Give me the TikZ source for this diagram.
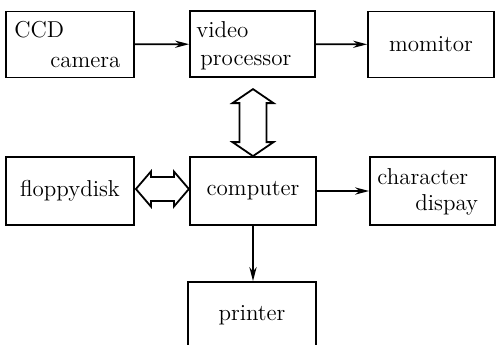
\documentclass[tikz,border=0pt]{standalone}
\usetikzlibrary{arrows.meta,calc}
\newcommand\PxUnit{0.5pt}
\newcommand\BoxFont{\fontsize{11.5}{13}\selectfont}
\tikzset{
  block/.style={
    draw,
    line width=0.9pt,
    minimum width=64pt,
    minimum height=33pt,
    inner sep=0pt,
    font=\BoxFont
  },
  blocktext/.style={
    anchor=base west,
    inner sep=0pt,
    font=\BoxFont
  },
  link/.style={
    line width=0.9pt,
    -{Stealth[length=7pt,width=3.6pt]}
  },
  bus/.style={
    draw,
    line width=0.9pt,
    line join=miter
  },
}

\begin{document}
\begin{tikzpicture}[x=\PxUnit,y=-\PxUnit]
    \useasboundingbox (0,0) rectangle (496,344);
    \clip (0,0) rectangle (496,344);

    % top row
    \node[block] (ccd) at (70,44.5) {};
    \node[blocktext] (ccdA) at (14,37) {CCD};
    \node[blocktext] (ccdB) at (50,67) {camera};
    \node[block, minimum width=62.5pt] (video) at (252.5,44) {};
    \node[blocktext] (videoA) at (196,37) {video};
    \node[blocktext] (videoB) at (200,65) {processor};
    \node[block, minimum width=63pt] (monitor) at (431,44.5) {momitor};

    % middle row
    \node[block, minimum height=34pt] (floppy) at (70,191) {floppydisk};
    \node[block, minimum width=63pt, minimum height=34pt] (computer) at (253,191) {computer};
    \node[block, minimum width=62.5pt, minimum height=34pt] (chardisp) at (432.5,191) {};
    \node[blocktext] (chardispA) at (377,184) {character};
    \node[blocktext] (chardispB) at (415,210) {dispay};

    % bottom row, cut off by the page edge
    \node[block] (printer) at (252,315) {printer};

    % plain connectors
    \draw[link] (ccd) -- (video);
    \draw[link] (video) -- (monitor);
    \draw[link] (computer) -- (chardisp);
    \draw[link] (computer.south) -- (computer.south |- printer.north);

    % two-way buses
    \coordinate (busH) at ($(floppy.east)+(1,-2)$);
    \path[bus] (busH) --++ (15,-17.5) --++ (0,5.5) --++ (23,0) --++ (0,-5.5)
        --++ (15,17.5) --++ (-15,17.5) --++ (0,-5.5) --++ (-23,0) --++ (0,5.5) -- cycle;
    \coordinate (busV) at (computer.north);
    \path[bus] (busV) --++ (-20.5,-14) --++ (7,0) --++ (0,-39) --++ (-7,0)
        --++ (20.5,-14) --++ (20.5,14) --++ (-7,0) --++ (0,39) --++ (7,0) -- cycle;
\end{tikzpicture}
\end{document}
